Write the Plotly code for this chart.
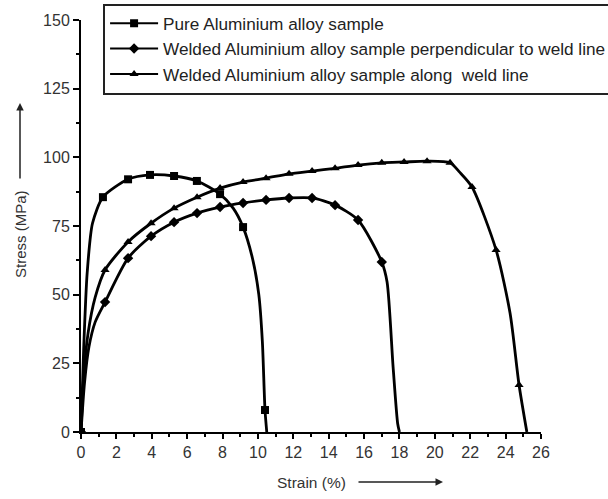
import plotly.graph_objects as go

# ---- data ----
series_names = [
    "Pure Aluminium alloy sample",
    "Welded Aluminium alloy sample perpendicular to weld line",
    "Welded Aluminium alloy sample along  weld line",
]

# smooth curve points
pure_curve_x = [0, 0.15, 0.35, 0.65, 1.24, 2.66, 3.9, 5.26, 6.55, 7.86, 8.6, 9.16, 9.7, 10.05, 10.25, 10.4, 10.5]
pure_curve_y = [0, 30, 58, 76, 85.5, 92, 93.6, 93.2, 91.4, 86.6, 81.5, 74.6, 63, 50, 33, 8, 0]
perp_curve_x = [0, 0.2, 0.45, 0.8, 1.36, 2.66, 3.96, 5.26, 6.56, 7.86, 9.16, 10.46, 11.76, 13.06, 14.36, 15.66, 17.0, 17.3, 17.64, 17.9, 18.0]
perp_curve_y = [0, 18, 31, 40, 47.3, 63.3, 71.3, 76.4, 79.7, 81.9, 83.4, 84.5, 85.2, 85.2, 82.6, 77.2, 61.9, 54.6, 23.7, 3, 0]
along_curve_x = [0, 0.15, 0.4, 0.8, 1.36, 2.66, 3.96, 5.26, 6.56, 7.86, 9.16, 10.46, 11.76, 13.06, 14.36, 15.66, 17.0, 18.26, 19.56, 20.86, 21.4, 22.1, 23.46, 24.25, 24.76, 25.2]
along_curve_y = [0, 20, 36, 49, 59, 69.2, 76, 81.5, 85.5, 88.8, 91, 92.4, 94, 95, 96, 97.2, 98, 98.3, 98.6, 98, 94.6, 89.2, 66.3, 43.3, 17.1, 0]

# marked points
pure_mark_x = [0, 1.24, 2.66, 3.9, 5.26, 6.55, 7.86, 9.16, 10.4]
pure_mark_y = [0, 85.5, 92, 93.6, 93.2, 91.4, 86.6, 74.6, 8]
perp_mark_x = [0, 1.36, 2.66, 3.96, 5.26, 6.56, 7.86, 9.16, 10.46, 11.76, 13.06, 14.36, 15.66, 17.0]
perp_mark_y = [0, 47.3, 63.3, 71.3, 76.4, 79.7, 81.9, 83.4, 84.5, 85.2, 85.2, 82.6, 77.2, 61.9]
along_mark_x = [0, 1.36, 2.66, 3.96, 5.26, 6.56, 7.86, 9.16, 10.46, 11.76, 13.06, 14.36, 15.66, 17.0, 18.26, 19.56, 20.86, 22.1, 23.46, 24.76]
along_mark_y = [0, 59, 69.2, 76, 81.5, 85.5, 88.8, 91, 92.4, 94, 95, 96, 97.2, 98, 98.3, 98.6, 98, 89.2, 66.3, 17.1]

x_ticks = list(range(0, 27, 2))
y_ticks = [0, 25, 50, 75, 100, 125, 150]

symbols = ["square", "diamond", "triangle-up"]
curves = [(pure_curve_x, pure_curve_y), (perp_curve_x, perp_curve_y), (along_curve_x, along_curve_y)]
marks = [(pure_mark_x, pure_mark_y), (perp_mark_x, perp_mark_y), (along_mark_x, along_mark_y)]

fig = go.Figure()
for i, name in enumerate(series_names):
    cx, cy = curves[i]
    mx, my = marks[i]
    fig.add_trace(go.Scatter(x=cx, y=cy, mode="lines", line=dict(color="black", width=2.8, shape="spline", smoothing=0.7),
                             showlegend=False, hoverinfo="skip"))
    fig.add_trace(go.Scatter(x=mx, y=my, mode="markers", marker=dict(symbol=symbols[i], size=8, color="black"),
                             showlegend=False))
    # legend entry
    fig.add_trace(go.Scatter(x=[None], y=[None], mode="lines+markers", name=name,
                             line=dict(color="black", width=2),
                             marker=dict(symbol=symbols[i], size=8, color="black"),
                             legendgroup="g%d" % i))

font_family = "Liberation Sans, Arial, sans-serif"
fig.update_layout(
    width=608, height=499,
    margin=dict(l=81, r=67, t=20, b=67, autoexpand=False),
    paper_bgcolor="white", plot_bgcolor="white",
    font=dict(family=font_family, color="#222", size=16),
    showlegend=True,
    legend=dict(x=0.048, y=1.04, xanchor="left", yanchor="top",
                bordercolor="#222", borderwidth=2, bgcolor="white",
                font=dict(size=17.2, color="#222"), tracegroupgap=0, itemwidth=48),
    xaxis=dict(range=[0, 26], tickvals=x_ticks, ticks="outside", ticklen=5, tickwidth=1.5,
               showline=True, linecolor="black", linewidth=2, showgrid=False, zeroline=False,
               minor=dict(dtick=1, ticks="outside", ticklen=3, tickwidth=1.5, tickcolor="black"),
               tickcolor="black", tickfont=dict(size=16, color="#333")),
    yaxis=dict(range=[0, 150], tickvals=y_ticks, ticks="outside", ticklen=6, tickwidth=1.5,
               showline=True, linecolor="black", linewidth=2, showgrid=False, zeroline=False,
               minor=dict(dtick=12.5, ticks="outside", ticklen=3, tickwidth=1.5, tickcolor="black"),
               tickcolor="black", tickfont=dict(size=16, color="#333")),
)

# axis titles with arrows
fig.add_annotation(text="Stress (MPa)", xref="paper", yref="paper", x=(20 - 81) / 460, y=(432 - 234) / 412,
                   xanchor="center", yanchor="middle",
                   textangle=-90, showarrow=False, font=dict(size=15, color="#333"))
fig.add_annotation(text="", xref="paper", yref="paper", x=(20 - 81) / 460, y=(432 - 103) / 412,
                   ax=0, ay=77, axref="pixel", ayref="pixel", showarrow=True,
                   arrowhead=2, arrowsize=1, arrowwidth=1.5, arrowcolor="#222")
fig.add_annotation(text="Strain (%)", xref="paper", yref="paper", x=(311 - 81) / 460, y=(432 - 482) / 412,
                   xanchor="center", yanchor="middle",
                   showarrow=False, font=dict(size=15.5, color="#333"))
fig.add_annotation(text="", xref="paper", yref="paper", x=(443 - 81) / 460, y=(432 - 482) / 412,
                   ax=-86, ay=0, axref="pixel", ayref="pixel", showarrow=True,
                   arrowhead=2, arrowsize=1, arrowwidth=1.5, arrowcolor="#222")

fig.write_html("out.html", config={"displayModeBar": False},
               post_script="document.body.style.margin='0';document.body.style.overflow='hidden';")
